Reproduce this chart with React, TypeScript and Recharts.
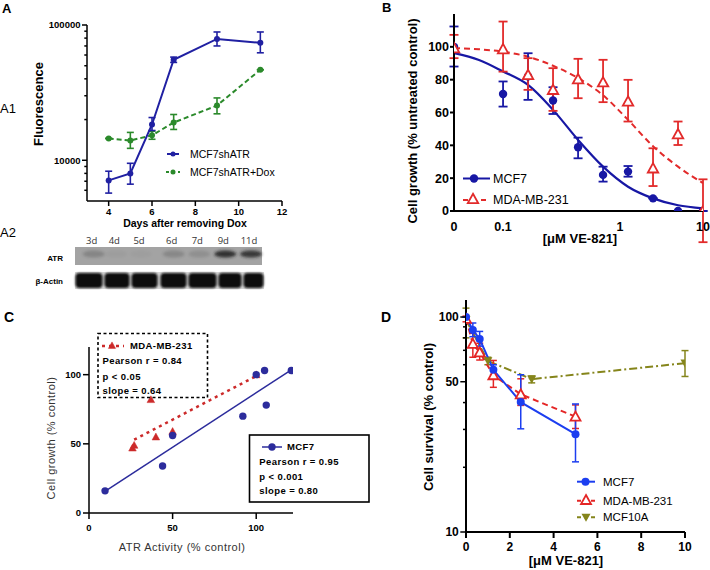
import React from "react";
import { ComposedChart, ErrorBar, Line, XAxis, YAxis } from "recharts";

const FONT = "Arial, 'Liberation Sans', Helvetica, sans-serif";

// ---- A1: fluorescence after removing Dox ----
const DAYS_A = [4, 5, 6, 7, 9, 11];
const SHATR = [7100, 8000, 18400, 55300, 78900, 73800];
const SHATR_LO = [5720, 6660, 16600, 52900, 70000, 62300];
const SHATR_HI = [8300, 9500, 20700, 57900, 88800, 88800];
const DOX = [14500, 14000, 15300, 19000, 25400, 46700];
const DOX_LO = [14500, 12250, 14300, 16900, 22050, 46700];
const DOX_HI = [14500, 16070, 16400, 21800, 28900, 46700];
const TICKS_A_X = [4, 6, 8, 10, 12];
const TICKS_A_Y = [6000, 7000, 8000, 9000, 10000, 20000, 30000, 40000, 50000, 60000, 70000, 80000, 90000, 100000];
const MAJOR_A_Y = [10000, 100000];

// ---- A2: blot lanes ----
const LANES = ["3d", "4d", "5d", "6d", "7d", "9d", "11d"];
const ATR_BAND = [0.22, 0.04, 0.03, 0.2, 0.14, 0.85, 0.8];

// ---- B: dose response ----
const DOSE_B = [0, 0.039, 0.078, 0.156, 0.3125, 0.625, 1.25, 2.5, 5, 10];
const ZERO_B = 0.01;
const MCF7_B = [100, 71.3, 82, 67.3, 38.8, 22, 24, 7.7, 0, 0];
const MCF7_B_LO = [88, 63.6, 67.7, 59.1, 32.1, 17.9, 20.9, 7.7, 0, 0];
const MCF7_B_HI = [112.4, 78.9, 96.1, 75.4, 44.7, 27, 27.4, 7.7, 0, 0];
const MDA_B = [99.2, 98.6, 82.9, 73.8, 80.3, 78.4, 66.7, 26, 46.8, 0];
const MDA_B_LO = [93.1, 84.9, 73.8, 61, 68.7, 66.3, 54.5, 15.2, 40.2, -19];
const MDA_B_HI = [107.3, 115.4, 93.1, 87, 92.7, 92.1, 79.9, 38.2, 54.5, 19.3];
const FIT_DOSE_B = [0, 0.02, 0.039, 0.078, 0.156, 0.3125, 0.625, 1.25, 2.5, 5, 10];
const FIT_MCF7_B = [96.2, 92, 85, 76.8, 61.6, 43.3, 27, 14.8, 7.7, 3.5, 1.6];
const FIT_MDA_B = [99.2, 98.5, 97, 94, 88.5, 81, 70.5, 55.5, 39.5, 27, 17];
const TICKS_B_X = [0, 0.039, 1, 10];
const TICK_LABELS_B_X = ["0", "0.1", "1", "10"];
const TICKS_B_Y = [0, 20, 40, 60, 80, 100];

// ---- C: ATR activity vs growth ----
const ATR_MCF7 = [9.6, 44, 50, 92, 100, 105, 106, 121];
const GROWTH_MCF7 = [16, 34, 56, 70, 100, 103, 78, 103];
const ATR_MDA = [26, 27, 37, 40, 50, 100];
const GROWTH_MDA = [47, 49, 82, 55, 59, 100];
const FIT_MCF7_C_X = [10, 121];
const FIT_MCF7_C_Y = [16, 103.5];
const FIT_MDA_C_X = [27, 100];
const FIT_MDA_C_Y = [53, 99];
const TICKS_C = [0, 50, 100];

// ---- D: survival ----
const DOSE_D = [0, 0.3125, 0.625, 1.25, 2.5, 5];
const MCF7_D = [100, 87, 79, 56.8, 40.2, 28.5];
const MCF7_D_LO = [100, 81, 73.2, 54, 30.2, 21.2];
const MCF7_D_HI = [100, 93.8, 85.7, 60, 53.9, 39.4];
const MDA_D = [98, 75, 68.5, 53.6, 43.7, 34.4];
const MDA_D_LO = [95, 65, 63.1, 47.1, 38.8, 30.3];
const MDA_D_HI = [101, 84, 75.5, 62.8, 51.6, 39];
const DOSE_10A = [0, 1, 3, 10];
const MCF10A = [97, 62.5, 51.4, 61];
const MCF10A_LO = [80, 60, 49.4, 52.9];
const MCF10A_HI = [110, 65, 53.2, 69.8];
const TICKS_D_X = [0, 2, 4, 6, 8, 10];
const TICKS_D_Y = [10, 20, 30, 40, 50, 60, 70, 80, 90, 100];
const MAJOR_D_Y = [10, 50, 100];

const BLUE_A = "#2020a2";
const GREEN_A = "#2b8a2b";
const BLUE_B = "#1717a4";
const RED_B = "#e22a2a";
const BLUE_C = "#2c2c9c";
const RED_C = "#cc2a2a";
const BLUE_D = "#1c3ef0";
const RED_D = "#e42626";
const OLIVE_D = "#85851b";

const errs = (v: number[], lo: number[], hi: number[]) => v.map((y, i) => [y - lo[i], hi[i] - y]);
const zeroB = (d: number) => (d === 0 ? ZERO_B : d);

const shErr = errs(SHATR, SHATR_LO, SHATR_HI);
const doxErr = errs(DOX, DOX_LO, DOX_HI);
const rowsA = DAYS_A.map((x, i) => ({ x, sh: SHATR[i], shErr: shErr[i], dox: DOX[i], doxErr: doxErr[i] }));

const mcf7ErrB = errs(MCF7_B, MCF7_B_LO, MCF7_B_HI);
const mdaErrB = errs(MDA_B, MDA_B_LO, MDA_B_HI);
const ptsB = DOSE_B.map((d, i) => ({
  x: zeroB(d),
  mcf7: MCF7_B[i],
  mcf7Err: mcf7ErrB[i],
  mda: MDA_B[i],
  mdaErr: mdaErrB[i],
}));
const fitB = FIT_DOSE_B.map((d, i) => ({ x: zeroB(d), mcf7: FIT_MCF7_B[i], mda: FIT_MDA_B[i] }));
const ticksBX = TICKS_B_X.map(zeroB);

const ptsCMcf7 = ATR_MCF7.map((x, i) => ({ x, y: GROWTH_MCF7[i] }));
const ptsCMda = ATR_MDA.map((x, i) => ({ x, y: GROWTH_MDA[i] }));
const fitCMcf7 = FIT_MCF7_C_X.map((x, i) => ({ x, y: FIT_MCF7_C_Y[i] }));
const fitCMda = FIT_MDA_C_X.map((x, i) => ({ x, y: FIT_MDA_C_Y[i] }));

const mcf7ErrD = errs(MCF7_D, MCF7_D_LO, MCF7_D_HI);
const mdaErrD = errs(MDA_D, MDA_D_LO, MDA_D_HI);
const rowsD = DOSE_D.map((x, i) => ({ x, mcf7: MCF7_D[i], mcf7Err: mcf7ErrD[i], mda: MDA_D[i], mdaErr: mdaErrD[i] }));
const err10A = errs(MCF10A, MCF10A_LO, MCF10A_HI);
const rows10A = DOSE_10A.map((x, i) => ({ x, v: MCF10A[i], err: err10A[i] }));

// marker shapes
const circleAt = (cx: number, cy: number, r: number, fill: string, key?: string) => (
  <circle key={key} cx={cx} cy={cy} r={r} fill={fill} />
);
const triUpAt = (cx: number, cy: number, s: number, stroke: string, fill: string, sw: number, key?: string) => (
  <path
    key={key}
    d={`M${cx},${cy - s}L${cx + s},${cy + s * 0.8}L${cx - s},${cy + s * 0.8}Z`}
    fill={fill}
    stroke={stroke}
    strokeWidth={sw}
  />
);
const triDownAt = (cx: number, cy: number, s: number, fill: string, key?: string) => (
  <path key={key} d={`M${cx - s},${cy - s * 0.8}L${cx + s},${cy - s * 0.8}L${cx},${cy + s}Z`} fill={fill} />
);

const circleDot = (fill: string, r: number) => (p: any) =>
  p.cx == null || p.cy == null ? <g key={`n${p.index}`} /> : circleAt(p.cx, p.cy, r, fill, `c${p.index}`);
const triUpDot = (stroke: string, s: number, fill: string, sw: number) => (p: any) =>
  p.cx == null || p.cy == null ? <g key={`n${p.index}`} /> : triUpAt(p.cx, p.cy, s, stroke, fill, sw, `t${p.index}`);
const triDownDot = (fill: string, s: number) => (p: any) =>
  p.cx == null || p.cy == null ? <g key={`n${p.index}`} /> : triDownAt(p.cx, p.cy, s, fill, `v${p.index}`);

function LogTick(props: any) {
  const { x, y, payload, majors, fontSize, len, minorLen } = props;
  const major = majors.includes(payload.value);
  const l = major ? len : minorLen;
  return (
    <g>
      <line x1={x - l} x2={x} y1={y} y2={y} stroke="#000" strokeWidth={1.5} />
      {major && (
        <text x={x - l - 1.5} y={y} dy="0.35em" textAnchor="end" fontSize={fontSize} fontWeight="bold" fontFamily={FONT} fill="#000">
          {payload.value}
        </text>
      )}
    </g>
  );
}

const axisLine = (w: number) => ({ stroke: "#000", strokeWidth: w });
const tickFont = (s: number) => ({ fontSize: s, fontWeight: "bold", fill: "#000", fontFamily: FONT });

function PanelA() {
  return (
    <ComposedChart width={300} height={240} margin={{ top: 25, right: 18, bottom: 0, left: 0 }}>
      <XAxis dataKey="x" type="number" domain={[3, 12]} ticks={TICKS_A_X} interval={0} height={39} allowDataOverflow
        axisLine={axisLine(1.5)} tickLine={axisLine(1.5)} tickSize={5} tickMargin={2} tick={tickFont(9.5)} />
      <YAxis type="number" scale="log" domain={[5000, 100000]} ticks={TICKS_A_Y} interval={0} width={87} allowDataOverflow
        axisLine={axisLine(1.5)} tickLine={false} tickSize={0} tickMargin={0}
        tick={<LogTick majors={MAJOR_A_Y} fontSize={9.5} len={5} minorLen={2.7} />} />
      <Line data={rowsA} dataKey="dox" stroke={GREEN_A} strokeWidth={2} strokeDasharray="5 3"
        dot={circleDot(GREEN_A, 3)} activeDot={false} isAnimationActive={false}>
        <ErrorBar dataKey="doxErr" direction="y" width={3.5} stroke={GREEN_A} strokeWidth={1.6} />
      </Line>
      <Line data={rowsA} dataKey="sh" stroke={BLUE_A} strokeWidth={2}
        dot={circleDot(BLUE_A, 3)} activeDot={false} isAnimationActive={false}>
        <ErrorBar dataKey="shErr" direction="y" width={3.5} stroke={BLUE_A} strokeWidth={1.6} />
      </Line>
    </ComposedChart>
  );
}

function PanelB() {
  return (
    <ComposedChart width={355} height={260} margin={{ top: 14, right: 7, bottom: 0, left: 0 }}>
      <XAxis dataKey="x" type="number" scale="log" domain={[ZERO_B, 10]} ticks={ticksBX} interval={0} height={49} allowDataOverflow
        axisLine={axisLine(2)} tickLine={false} tickSize={0} tickMargin={11} tick={tickFont(12.5)}
        tickFormatter={(v: number) => TICK_LABELS_B_X[ticksBX.indexOf(v)] ?? ""} />
      <YAxis type="number" domain={[0, 120]} ticks={TICKS_B_Y} interval={0} width={99} allowDataOverflow
        axisLine={axisLine(2)} tickLine={axisLine(2)} tickSize={4} tickMargin={1} tick={tickFont(12.5)} />
      <Line data={fitB} dataKey="mcf7" stroke={BLUE_B} strokeWidth={2.2} type="monotone" dot={false} activeDot={false} isAnimationActive={false} />
      <Line data={fitB} dataKey="mda" stroke={RED_B} strokeWidth={2} strokeDasharray="6 4" type="monotone" dot={false} activeDot={false} isAnimationActive={false} />
      <Line data={ptsB} dataKey="mcf7" stroke="none" dot={circleDot(BLUE_B, 4.2)} activeDot={false} isAnimationActive={false}>
        <ErrorBar dataKey="mcf7Err" direction="y" width={4.5} stroke={BLUE_B} strokeWidth={1.8} />
      </Line>
      <Line data={ptsB} dataKey="mda" stroke="none" dot={triUpDot(RED_B, 5.2, "#fff", 1.8)} activeDot={false} isAnimationActive={false}>
        <ErrorBar dataKey="mdaErr" direction="y" width={4.5} stroke={RED_B} strokeWidth={1.8} />
      </Line>
    </ComposedChart>
  );
}

function PanelC() {
  return (
    <ComposedChart width={300} height={215} margin={{ top: 17, right: 7, bottom: 0, left: 0 }}>
      <XAxis dataKey="x" type="number" domain={[0, 122]} ticks={TICKS_C} interval={0} height={32} allowDataOverflow
        axisLine={axisLine(1.5)} tickLine={axisLine(1.5)} tickSize={6} tickMargin={5} tick={tickFont(9.5)} />
      <YAxis dataKey="y" type="number" domain={[0, 120]} ticks={TICKS_C} interval={0} width={89} allowDataOverflow
        axisLine={axisLine(1.5)} tickLine={axisLine(1.5)} tickSize={6} tickMargin={2} tick={tickFont(9.5)} />
      <Line data={fitCMcf7} dataKey="y" stroke={BLUE_C} strokeWidth={1.5} dot={false} activeDot={false} isAnimationActive={false} />
      <Line data={fitCMda} dataKey="y" stroke={RED_C} strokeWidth={2.5} strokeDasharray="3 4" dot={false} activeDot={false} isAnimationActive={false} />
      <Line data={ptsCMda} dataKey="y" stroke="none" dot={triUpDot(RED_C, 3.8, RED_C, 0.5)} activeDot={false} isAnimationActive={false} />
      <Line data={ptsCMcf7} dataKey="y" stroke="none" dot={circleDot(BLUE_C, 3.7)} activeDot={false} isAnimationActive={false} />
    </ComposedChart>
  );
}

function PanelD() {
  return (
    <ComposedChart width={355} height={285} margin={{ top: 15, right: 25, bottom: 0, left: 0 }}>
      <XAxis dataKey="x" type="number" domain={[0, 10]} ticks={TICKS_D_X} interval={0} height={38} allowDataOverflow
        axisLine={axisLine(2)} tickLine={axisLine(2)} tickSize={6} tickMargin={4} tick={tickFont(12)} />
      <YAxis type="number" scale="log" domain={[10, 120]} ticks={TICKS_D_Y} interval={0} width={111} allowDataOverflow
        axisLine={axisLine(2)} tickLine={false} tickSize={0} tickMargin={0}
        tick={<LogTick majors={MAJOR_D_Y} fontSize={12} len={5.7} minorLen={3} />} />
      <Line data={rows10A} dataKey="v" stroke={OLIVE_D} strokeWidth={2} strokeDasharray="8 3 2 3"
        dot={triDownDot(OLIVE_D, 4.5)} activeDot={false} isAnimationActive={false}>
        <ErrorBar dataKey="err" direction="y" width={3.5} stroke={OLIVE_D} strokeWidth={1.5} />
      </Line>
      <Line data={rowsD} dataKey="mda" stroke={RED_D} strokeWidth={2} strokeDasharray="6 4"
        dot={triUpDot(RED_D, 5, "#fff", 1.8)} activeDot={false} isAnimationActive={false}>
        <ErrorBar dataKey="mdaErr" direction="y" width={3.5} stroke={RED_D} strokeWidth={1.5} />
      </Line>
      <Line data={rowsD} dataKey="mcf7" stroke={BLUE_D} strokeWidth={2}
        dot={circleDot(BLUE_D, 4)} activeDot={false} isAnimationActive={false}>
        <ErrorBar dataKey="mcf7Err" direction="y" width={3.5} stroke={BLUE_D} strokeWidth={1.5} />
      </Line>
    </ComposedChart>
  );
}

function T(props: {
  x: number; y: number; s: number; b?: boolean; a?: "start" | "middle" | "end"; r?: number; c?: string; ls?: number; f?: string; children: React.ReactNode;
}) {
  const { x, y, s, b, a = "start", r, c = "#000", ls, f = FONT, children } = props;
  return (
    <text x={x} y={y} dy="0.35em" fontSize={s} fontWeight={b ? "bold" : "normal"} textAnchor={a} fill={c}
      letterSpacing={ls} fontFamily={f} transform={r ? `rotate(${r} ${x} ${y})` : undefined}>
      {children}
    </text>
  );
}

const LANE_X = [91.7, 114.3, 139, 171.7, 197.3, 223.3, 249];
const ACTIN_X = [75, 104, 131, 160, 188, 218, 243];
const ACTIN_W = [28, 26, 27, 27, 29, 24, 21];

function Overlay() {
  return (
    <svg width={710} height={570} style={{ position: "absolute", left: 0, top: 0, pointerEvents: "none" }}>
      <defs>
        <filter id="blur2" x="-30%" y="-60%" width="160%" height="220%">
          <feGaussianBlur stdDeviation="1.6" />
        </filter>
        <filter id="blur1" x="-10%" y="-20%" width="120%" height="140%">
          <feGaussianBlur stdDeviation="0.8" />
        </filter>
      </defs>

      {/* panel A */}
      <T x={2} y={8} s={13} b>A</T>
      <T x={0} y={108} s={13}>A1</T>
      <T x={0} y={232} s={13}>A2</T>
      <T x={38} y={104} s={13} b a="middle" r={-90}>Fluorescence</T>
      <T x={185} y={223} s={10.5} b a="middle">Days after removing Dox</T>
      <line x1={167} x2={179} y1={154} y2={154} stroke={BLUE_A} strokeWidth={2} />
      {circleAt(173, 154, 2.5, BLUE_A)}
      <T x={190} y={154} s={10.5}>MCF7shATR</T>
      <line x1={166} x2={180} y1={172} y2={172} stroke={GREEN_A} strokeWidth={2} strokeDasharray="3 3" />
      {circleAt(173, 172, 2.5, GREEN_A)}
      <T x={190} y={172} s={10.5}>MCF7shATR+Dox</T>

      {/* blot */}
      {LANES.map((l, i) => (
        <T key={l} x={LANE_X[i]} y={241} s={9.5} a="middle" c="#333" f="'Open Sans', sans-serif">{l}</T>
      ))}
      <rect x={75} y={247} width={187} height={18} fill="#a3a3a3" />
      {ATR_BAND.map((o, i) => (
        <ellipse key={i} cx={LANE_X[i] + 2} cy={254} rx={11} ry={3.6} fill="#1a1a1a" opacity={o} filter="url(#blur2)" />
      ))}
      <rect x={75} y={272} width={189} height={17} fill="#d6d6d6" />
      {ACTIN_X.map((x, i) => (
        <rect key={i} x={x + 0.5} y={273} width={ACTIN_W[i] - 1} height={15} rx={4} fill="#0b0b0b" filter="url(#blur1)" />
      ))}
      <T x={63} y={258} s={8} b a="end">ATR</T>
      <T x={63} y={281} s={8} b a="end">β-Actin</T>

      {/* panel B */}
      <T x={382} y={7} s={13} b>B</T>
      <T x={412} y={121} s={13} b a="middle" r={-90}>Cell growth (% untreated control)</T>
      <T x={580} y={238} s={13} b a="middle">[μM VE-821]</T>
      <line x1={463} x2={490} y1={178.5} y2={178.5} stroke={BLUE_B} strokeWidth={2} />
      {circleAt(474, 178.5, 4.2, BLUE_B)}
      <T x={493} y={178.5} s={12.5}>MCF7</T>
      <line x1={463} x2={490} y1={200} y2={200} stroke={RED_B} strokeWidth={2} strokeDasharray="5 4" />
      {triUpAt(473, 199, 5.2, RED_B, "#fff", 1.8)}
      <T x={493} y={200} s={12.5}>MDA-MB-231</T>

      {/* panel C */}
      <T x={4} y={317} s={14} b>C</T>
      <T x={51} y={438} s={11} a="middle" r={-90} c="#333" ls={0.5}>Cell growth (% control)</T>
      <T x={182} y={547} s={11} a="middle" c="#333" ls={0.5}>ATR Activity (% control)</T>
      <rect x={98} y={333.5} width={109.5} height={64} fill="none" stroke="#000" strokeWidth={1.6} strokeDasharray="3 2.5" />
      <line x1={102} x2={124} y1={346} y2={346} stroke={RED_C} strokeWidth={2.5} strokeDasharray="3 4" />
      {triUpAt(112, 345.5, 3.6, RED_C, RED_C, 0.5)}
      <T x={130} y={346} s={9.5} b ls={0.4}>MDA-MB-231</T>
      <T x={102.5} y={361} s={9.5} b ls={0.4}>Pearson r = 0.84</T>
      <T x={102.5} y={376.7} s={9.5} b ls={0.4}>p &lt; 0.05</T>
      <T x={102.5} y={391} s={9.5} b ls={0.4}>slope = 0.64</T>
      <rect x={249.5} y={435} width={119.5} height={67} fill="#fff" stroke="#000" strokeWidth={1.6} />
      <line x1={262} x2={282} y1={447} y2={447} stroke={BLUE_C} strokeWidth={1.5} />
      {circleAt(272, 447, 3.7, BLUE_C)}
      <T x={287} y={447} s={9.5} b ls={0.4}>MCF7</T>
      <T x={259.3} y={462} s={9.5} b ls={0.4}>Pearson r = 0.95</T>
      <T x={259.3} y={476.7} s={9.5} b ls={0.4}>p &lt; 0.001</T>
      <T x={259.3} y={491} s={9.5} b ls={0.4}>slope = 0.80</T>

      {/* panel D */}
      <T x={381} y={317} s={14} b>D</T>
      <T x={428} y={417} s={13} b a="middle" r={-90}>Cell survival (% control)</T>
      <T x={566} y={560} s={13} b a="middle">[μM VE-821]</T>
      <line x1={577} x2={595} y1={481.7} y2={481.7} stroke={BLUE_D} strokeWidth={2} />
      {circleAt(585.5, 481.7, 4, BLUE_D)}
      <T x={603} y={481.7} s={11.5}>MCF7</T>
      <line x1={577} x2={595} y1={500.7} y2={500.7} stroke={RED_D} strokeWidth={2} strokeDasharray="4 3" />
      {triUpAt(586, 500, 5, RED_D, "#fff", 1.8)}
      <T x={603} y={500.7} s={11.5}>MDA-MB-231</T>
      <line x1={577} x2={595} y1={517.3} y2={517.3} stroke={OLIVE_D} strokeWidth={2} strokeDasharray="4 3" />
      {triDownAt(586, 517.3, 4.5, OLIVE_D)}
      <T x={603} y={517.3} s={11.5}>MCF10A</T>
    </svg>
  );
}

export default function App() {
  return (
    <div style={{ position: "fixed", left: 0, top: 0, width: 710, height: 570, background: "#fff", overflow: "hidden", fontFamily: FONT }}>
      <div style={{ position: "absolute", left: 0, top: 0 }}>
        <PanelA />
      </div>
      <div style={{ position: "absolute", left: 355, top: 0 }}>
        <PanelB />
      </div>
      <div style={{ position: "absolute", left: 0, top: 330 }}>
        <PanelC />
      </div>
      <div style={{ position: "absolute", left: 355, top: 285 }}>
        <PanelD />
      </div>
      <Overlay />
    </div>
  );
}
